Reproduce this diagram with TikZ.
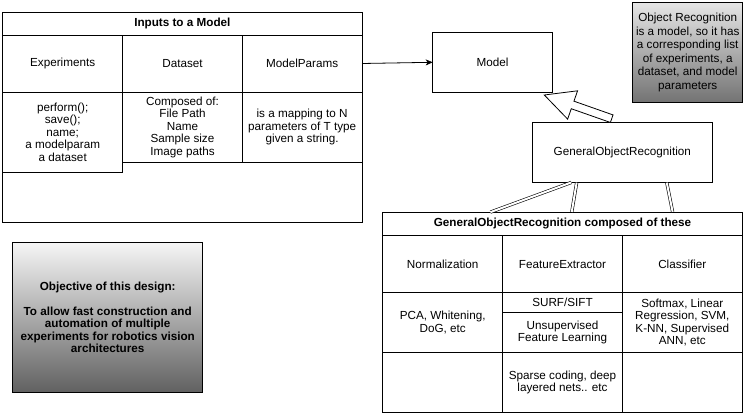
\documentclass[tikz,border=0pt]{standalone}
\usepackage{fontspec}
\setmainfont{Liberation Sans}
\usepackage{tikz}
\usetikzlibrary{positioning, arrows.meta, calc}

\newcommand{\diagfont}{\fontsize{11.7}{12.5}\selectfont}

\begin{document}
\begin{tikzpicture}[x=1pt, y=-1pt, >={Stealth[length=7pt, width=6pt, inset=2pt]}, node distance=0pt, font=\diagfont,
    cell/.style={draw, line width=0.8pt, outer sep=0pt, inner sep=1pt, align=center},
    head/.style={cell, font=\diagfont\bfseries},
    note/.style={cell, anchor=north west, top color=black!10, bottom color=black!55},
    link/.style={draw, double, double distance=2pt, line width=0.6pt, shorten <=0.4pt, shorten >=0.4pt}]
    \useasboundingbox (0,0) rectangle (754,414);

    % inputs table
    \node[cell, minimum width=359.3pt, minimum height=209.3pt, anchor=north west] (inputs) at (2.7,12.7) {};
    \node[head, minimum width=359.3pt, minimum height=22.3pt, anchor=north west] (intitle) at (inputs.north west) {Inputs to a Model};
    \node[cell, minimum width=120pt, minimum height=57pt] (experiments) [below right=of intitle.south west] {Experiments};
    \node[cell, minimum width=119.6pt, minimum height=57pt] (dataset) [right=of experiments] {Dataset};
    \node[cell, minimum width=119.7pt, minimum height=57pt] (modelparams) [right=of dataset] {ModelParams};
    \node[cell, minimum width=120pt, minimum height=80pt] (expbody) [below=of experiments] {perform();\\ save();\\ name;\\ a modelparam\\ a dataset};
    \node[cell, minimum width=119.6pt, minimum height=70pt] (databody) [below=of dataset] {Composed of:\\ File Path\\ Name\\ Sample size\\ Image paths};
    \node[cell, minimum width=119.7pt, minimum height=70pt] (parambody) [below=of modelparams] {is a mapping to N\\ parameters of T type\\ given a string.};

    \node[cell, minimum width=119.6pt, minimum height=60pt, anchor=north west] (model) at (432.7,32.3) {Model};
    \node[note, minimum width=110pt, minimum height=99.6pt, font=\fontsize{11.7}{13.5}\selectfont] (recnote) at (632.7,2.7) {Object Recognition\\ is a model, so it has\\ a corresponding list\\ of experiments, a\\ dataset, and model\\ parameters};
    \node[cell, fill=white, minimum width=180pt, minimum height=60pt, anchor=north west] (general) at (532.3,122.3) {GeneralObjectRecognition};

    % parts of the recognizer
    \node[cell, minimum width=359.6pt, minimum height=200pt, anchor=north west] (parts) at (382.7,212.3) {};
    \node[head, minimum width=359.6pt, minimum height=23.4pt, anchor=north west] (partstitle) at (parts.north west) {GeneralObjectRecognition composed of these};
    \node[cell, minimum width=120pt, minimum height=57pt] (normalization) [below right=of partstitle.south west] {Normalization};
    \node[cell, minimum width=119.6pt, minimum height=57pt] (extractor) [right=of normalization] {FeatureExtractor};
    \node[cell, minimum width=120pt, minimum height=57pt] (classifier) [right=of extractor] {Classifier};
    \node[cell, minimum width=120pt, minimum height=59.6pt] (normbody) [below=of normalization] {PCA, Whitening,\\ DoG, etc};
    \node[cell, minimum width=119.6pt, minimum height=19.6pt] (surf) [below=of extractor] {SURF/SIFT};
    \node[cell, minimum width=119.6pt, minimum height=40pt] (unsup) [below=of surf] {Unsupervised\\ Feature Learning};
    \node[cell, minimum width=120pt, minimum height=59.6pt] (classbody) [below=of classifier] {Softmax, Linear\\ Regression, SVM,\\ K-NN, Supervised\\ ANN, etc};
    \node[cell, minimum width=119.6pt, minimum height=60pt] (sparse) [below=of unsup] {Sparse coding, deep\\ layered nets.. etc};

    \node[note, top color=black!4, bottom color=black!62, minimum width=190pt, minimum height=149.6pt, font=\diagfont\bfseries] (objective) at (12.7,242.7) {Objective of this design:\\[12.5pt] To allow fast construction and\\ automation of multiple\\ experiments for robotics vision\\ architectures};

    \draw[->, line width=0.8pt] (modelparams.east) -- (model.west);

    % hollow arrow up to the model
    \coordinate (gentail) at ([xshift=-10.6pt, yshift=3.6pt]general.north);
    \coordinate (gentip) at ([xshift=-8pt, yshift=-2.7pt]model.south east);
    \coordinate (genbase) at ($(gentip)!30pt!(gentail)$);
    \draw[line width=0.8pt, fill=white] ($(gentail)!4pt!90:(gentip)$) -- ($(genbase)!4pt!90:(gentip)$)
        -- ($(genbase)!15pt!90:(gentip)$) -- (gentip) -- ($(genbase)!15pt!-90:(gentip)$)
        -- ($(genbase)!4pt!-90:(gentip)$) -- ($(gentail)!4pt!-90:(gentip)$) -- cycle;

    % composition links
    \draw[link] ([xshift=-50.6pt]general.south) -- ([xshift=-72.5pt]parts.north);
    \draw[link] ([xshift=-45.6pt]general.south) -- ([xshift=9.2pt]parts.north);
    \draw[link] ([xshift=44.4pt]general.south) -- ([xshift=110.2pt]parts.north);
\end{tikzpicture}
\end{document}
